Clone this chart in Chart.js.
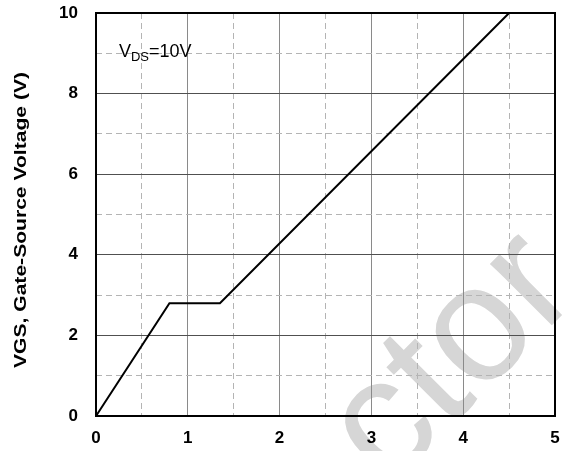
<!DOCTYPE html>
<html>
<head>
<meta charset="utf-8">
<title>Gate Charge</title>
<script src="https://cdn.jsdelivr.net/npm/chart.js@4.4.0/dist/chart.umd.min.js"></script>
<style>
  html, body { margin: 0; padding: 0; background: #fff; }
  #wrap { width: 564px; height: 451px; }
</style>
</head>
<body>
<div id="wrap"><canvas id="gateChart" width="564" height="451"></canvas></div>
<script>
// Gate charge curve: VGS against charge, VDS = 10 V
const chargeValues = [0, 0.8, 1.35, 4.5];
const vgsValues = [0, 2.8, 2.8, 10];
const xTickLabels = ['0', '1', '2', '3', '4', '5'];
const yTickLabels = ['0', '2', '4', '6', '8', '10'];

const FONT = "'Liberation Sans', Arial, Helvetica, sans-serif";
const MINOR_DASH = [6, 4];

function isMajor(value, step) {
    return Math.abs(value / step - Math.round(value / step)) < 1e-6;
}

// faint lettering behind the grid
const watermark = {
    id: 'watermark',
    beforeDraw(chart) {
        const ctx = chart.ctx;
        ctx.save();
        ctx.translate(388, 489);
        ctx.rotate(-Math.PI / 4);
        ctx.font = `165px ${FONT}`;
        ctx.fillStyle = '#d6d6d6';
        ctx.textBaseline = 'alphabetic';
        ctx.fillText('ctor', 0, 0);
        ctx.restore();
    }
};

// frame, axis title and the VDS note
const decorations = {
    id: 'decorations',
    afterDraw(chart) {
        const { ctx, chartArea } = chart;
        ctx.save();
        ctx.strokeStyle = '#000';
        ctx.lineWidth = 2;
        ctx.strokeRect(chartArea.left, chartArea.top,
            chartArea.right - chartArea.left, chartArea.bottom - chartArea.top);

        // y axis title, drawn a little stretched along its length
        ctx.translate(21, 220);
        ctx.rotate(-Math.PI / 2);
        ctx.scale(1.24, 1);
        ctx.font = `bold 17px ${FONT}`;
        ctx.fillStyle = '#000';
        ctx.textAlign = 'center';
        ctx.textBaseline = 'middle';
        ctx.fillText('VGS, Gate-Source Voltage (V)', 0, 0);
        ctx.restore();

        ctx.save();
        const x0 = chart.scales.x.getPixelForValue(0.25);
        const base = chart.scales.y.getPixelForValue(8.9);
        ctx.fillStyle = '#000';
        ctx.textBaseline = 'alphabetic';
        ctx.font = `18px ${FONT}`;
        ctx.fillText('V', x0, base);
        let x = x0 + ctx.measureText('V').width;
        ctx.font = `13px ${FONT}`;
        ctx.fillText('DS', x, base + 4);
        x += ctx.measureText('DS').width;
        ctx.font = `18px ${FONT}`;
        ctx.fillText('=10V', x, base);
        ctx.restore();
    }
};

const ctx = document.getElementById('gateChart').getContext('2d');
new Chart(ctx, {
    type: 'line',
    data: {
        datasets: [{
            data: chargeValues.map((q, i) => ({ x: q, y: vgsValues[i] })),
            borderColor: '#000',
            borderWidth: 2,
            pointRadius: 0,
            tension: 0,
            fill: false
        }]
    },
    options: {
        responsive: false,
        animation: false,
        devicePixelRatio: 1,
        layout: { padding: { top: 13, right: 9, left: 0, bottom: 0 } },
        plugins: {
            legend: { display: false },
            tooltip: { enabled: false }
        },
        scales: {
            x: {
                type: 'linear',
                min: 0,
                max: 5,
                afterFit: scale => {
                    scale.height = 35;
                    scale.paddingLeft = 0;
                    scale.paddingRight = 0;
                },
                ticks: {
                    stepSize: 0.5,
                    autoSkip: false,
                    maxRotation: 0,
                    padding: 12,
                    color: '#000',
                    font: { family: FONT, size: 17, weight: 'bold' },
                    callback: v => xTickLabels.includes(String(v)) ? String(v) : ''
                },
                grid: {
                    drawTicks: false,
                    color: c => isMajor(c.tick.value, 1) ? '#8a8a8a' : '#b4b4b4',
                    lineWidth: 1
                },
                border: {
                    display: false,
                    dash: c => (c.tick && !isMajor(c.tick.value, 1)) ? MINOR_DASH : []
                }
            },
            y: {
                type: 'linear',
                min: 0,
                max: 10,
                afterFit: scale => {
                    scale.width = 96;
                    scale.paddingTop = 0;
                    scale.paddingBottom = 0;
                },
                ticks: {
                    stepSize: 1,
                    autoSkip: false,
                    padding: 18,
                    color: '#000',
                    font: { family: FONT, size: 17, weight: 'bold' },
                    callback: v => yTickLabels.includes(String(v)) ? String(v) : ''
                },
                grid: {
                    drawTicks: false,
                    color: c => isMajor(c.tick.value, 2) ? '#505050' : '#b4b4b4',
                    lineWidth: 1
                },
                border: {
                    display: false,
                    dash: c => (c.tick && !isMajor(c.tick.value, 2)) ? MINOR_DASH : []
                }
            }
        }
    },
    plugins: [watermark, decorations]
});
</script>
</body>
</html>
